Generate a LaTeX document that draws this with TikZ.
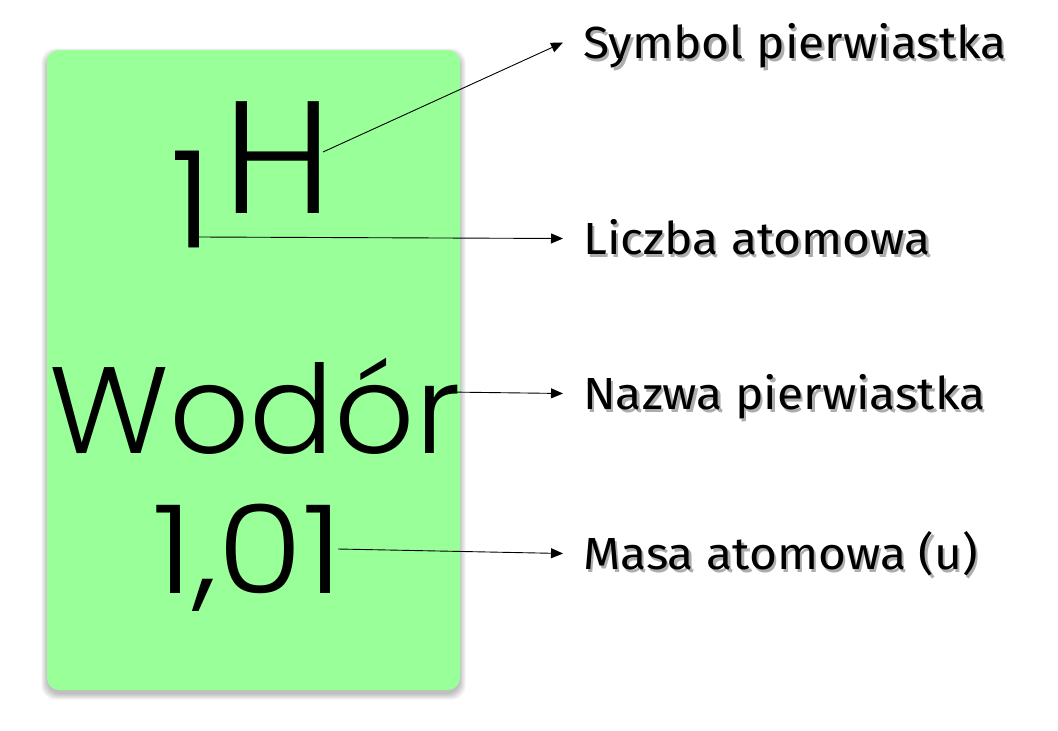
\documentclass[tikz,border=0pt]{standalone}
\usepackage{fontspec}
\setmainfont{Fira Sans}[FakeStretch=1.065]
\newfontfamily\elfont{Poppins Light}
\usetikzlibrary{arrows.meta}
\definecolor{boxgreen}{RGB}{153,255,153}
\newcommand\shtext[1]{\rlap{\kern2.5pt\raisebox{-3pt}{\textcolor{black!32}{#1}}}#1}
\begin{document}
\begin{tikzpicture}[x=1pt,y=-1pt,
  lab/.style={anchor=base west, inner xsep=20pt, inner ysep=0pt, text height=31pt, text depth=0pt, font=\fontsize{45}{45}\selectfont},
  el/.style={anchor=base, inner sep=0pt, font=\elfont\fontsize{#1}{#1}\selectfont},
  conn/.style={-{Triangle[length=12pt,width=10pt]}, line width=0.9pt}
]
\useasboundingbox (0,0) rectangle (1058,731);
% card shadow
\foreach \i in {0,...,7} {
  \fill[black,opacity=0.035,rounded corners=14pt] (47-\i*0.8, 54-\i*0.8) rectangle (460+\i*0.8, 694+\i*0.8);
}
\fill[boxgreen,rounded corners=12pt] (47,50) rectangle (460,690);
% element texts
\node[el=160] (sym) at (278,213) {H};
\node[el=134] (num) at (191,247) {\addfontfeatures{FakeBold=0.6}1};
\node[el=123] (name) at (255,453) {\scalebox{1.02}[1]{Wodór}};
\node[el=123] (mass) at (248,593) {\scalebox{1.13}[1]{1,01}};
% start points
\coordinate (hs) at (323,152);
\coordinate (ns) at (199,237);
\coordinate (ws) at (447,392);
\coordinate (ms) at (338,549);
% labels
\node[lab] (l1) at (563,58) {\shtext{Symbol pierwiastka}};
\node[lab] (l2) at (563,254) {\shtext{Liczba atomowa}};
\node[lab] (l3) at (563,409) {\shtext{Nazwa pierwiastka}};
\node[lab] (l4) at (563,569) {\shtext{Masa atomowa (u)}};
% connectors
\draw[conn] (hs) -- (l1.west);
\draw[conn] (ns) -- (l2.west);
\draw[conn] (ws) -- (l3.west);
\draw[conn] (ms) -- (l4.west);
\end{tikzpicture}
\end{document}
